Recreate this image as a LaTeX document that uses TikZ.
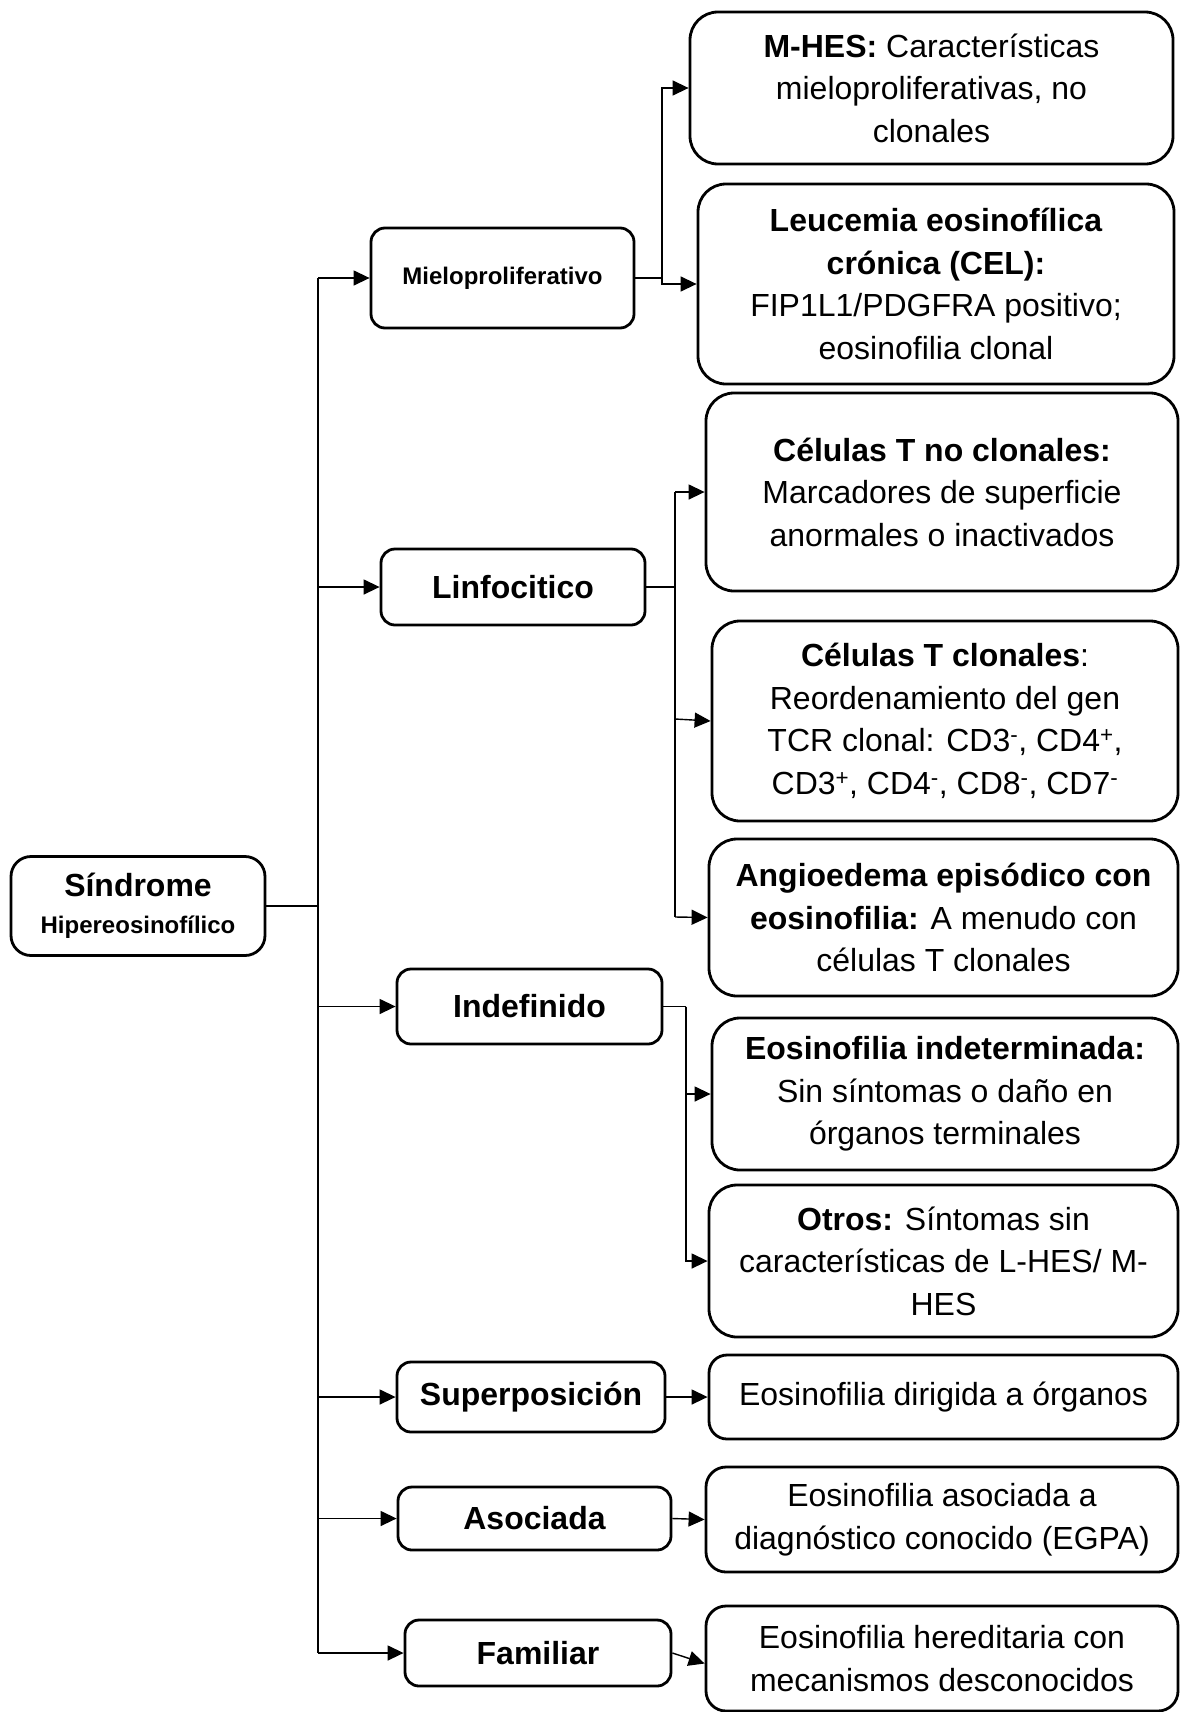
\documentclass[tikz,border=0pt]{standalone}
\usepackage{fontspec}
\setmainfont{Liberation Sans}
\usetikzlibrary{arrows.meta}
\tikzset{
  lone/.style={draw, line width=2.8bp, rounded corners=14bp, align=center, inner sep=0pt,
    font=\fontsize{32.1}{42.7}\selectfont\bfseries},
  ltwo/.style={draw, line width=2.8bp, rounded corners=28bp, align=center, inner sep=0pt,
    font=\fontsize{32.1}{42.7}\selectfont},
  conn/.style={line width=1.4bp},
  arr/.style={conn, -{Triangle[length=16bp,width=15bp]}},
}
\begin{document}
\begin{tikzpicture}[x=1bp,y=-1bp]
\useasboundingbox (0,0) rectangle (1179,1712);
% root
\node[lone, rounded corners=20bp, minimum width=254bp, minimum height=99bp,
  font=\fontsize{24.1}{37}\selectfont\bfseries] (root) at (138,906)
  {{\fontsize{32.1}{37}\selectfont Síndrome}\\Hipereosinofílico};
% level 1
\node[lone, minimum width=263bp, minimum height=100bp, font=\fontsize{24.1}{30}\selectfont\bfseries] (mielo) at (502.5,278) {Mieloproliferativo};
\node[lone, minimum width=264bp, minimum height=76bp] (linf) at (513,587) {Linfocitico};
\node[lone, minimum width=265bp, minimum height=75bp] (indef) at (529.5,1006.5) {Indefinido};
\node[lone, minimum width=268bp, minimum height=70bp] (super) at (531,1397) {Superposición};
\node[lone, minimum width=273bp, minimum height=63bp] (asoc) at (534.5,1518.5) {Asociada};
\node[lone, minimum width=266bp, minimum height=66bp] (fam) at (538,1653) {Familiar};
% level 2
\node[ltwo, minimum width=483bp, minimum height=152bp] (mhes) at (931.5,88)
  {\textbf{M-HES:} Características\\mieloproliferativas, no\\clonales};
\node[ltwo, minimum width=476bp, minimum height=200bp] (cel) at (936,284)
  {\textbf{Leucemia eosinofílica}\\\textbf{crónica (CEL):}\\FIP1L1/PDGFRA positivo;\\eosinofilia clonal};
\node[ltwo, minimum width=472bp, minimum height=198bp] (tno) at (942,492)
  {\textbf{Células T no clonales:}\\Marcadores de superficie\\anormales o inactivados};
\node[ltwo, minimum width=466bp, minimum height=200bp] (tcl) at (945,721)
  {\textbf{Células T clonales}:\\Reordenamiento del gen\\TCR clonal: CD3\textsuperscript{-}, CD4\textsuperscript{+},\\CD3\textsuperscript{+}, CD4\textsuperscript{-}, CD8\textsuperscript{-}, CD7\textsuperscript{-}};
\node[ltwo, minimum width=469bp, minimum height=157bp] (angio) at (943.5,917.5)
  {\textbf{Angioedema episódico con}\\\textbf{eosinofilia:} A menudo con\\células T clonales};
\node[ltwo, minimum width=466bp, minimum height=152bp] (eind) at (945,1094)
  {\textbf{Eosinofilia indeterminada:}\\Sin síntomas o daño en\\órganos terminales};
\node[ltwo, minimum width=469bp, minimum height=152bp] (otros) at (943.5,1261)
  {\textbf{Otros:} Síntomas sin\\características de L-HES/ M-\\HES};
\node[ltwo, rounded corners=18bp, minimum width=469bp, minimum height=84bp] (edir) at (943.5,1397)
  {Eosinofilia dirigida a órganos};
\node[ltwo, rounded corners=20bp, minimum width=472bp, minimum height=105bp] (easoc) at (942,1519.5)
  {Eosinofilia asociada a\\diagnóstico conocido (EGPA)};
\node[ltwo, rounded corners=20bp, minimum width=472bp, minimum height=105bp] (eher) at (942,1658.5)
  {Eosinofilia hereditaria con\\mecanismos desconocidos};
% trunk
\coordinate (t1) at (318,278);
\coordinate (t2) at (318,587);
\coordinate (t3) at (318,1006.5);
\coordinate (t4) at (318,1397);
\coordinate (t5) at (318,1518.5);
\coordinate (t6) at (318,1653);
\draw[conn] (root.east) -- (root.east -| t1);
\draw[conn] (t1) -- (t6);
\draw[arr] (t1) -- (mielo.west);
\draw[arr] (t2) -- (linf.west);
\draw[arr] (t3) -- (indef.west);
\draw[arr] (t4) -- (super.west);
\draw[arr] (t5) -- (asoc.west);
\draw[arr] (t6) -- (fam.west);
% mielo branch
\coordinate (j1) at (662,278);
\draw[conn] (mielo.east) -- (j1);
\draw[arr] (j1) |- (mhes.west);
\draw[arr] (j1) |- (cel.west);
% linf branch
\coordinate (j2) at (675,587);
\coordinate (j2a) at (675,492);
\coordinate (j2b) at (675,719);
\coordinate (j2c) at (675,917);
\draw[conn] (linf.east) -- (j2);
\draw[conn] (j2a) -- (j2c);
\draw[arr] (j2a) -- (tno.west);
\draw[arr] (j2b) -- (tcl.west);
\draw[arr] (j2c) -- (angio.west);
% indef branch
\coordinate (j3) at (686,1006.5);
\draw[conn] (indef.east) -- (j3);
\draw[arr] (j3) |- (eind.west);
\draw[arr] (j3) |- (otros.west);
% single arrows
\draw[arr] (super.east) -- (edir.west);
\draw[arr] (asoc.east) -- (easoc.west);
\draw[arr] (fam.east) -- ([yshift=-5bp]eher.west);
\end{tikzpicture}
\end{document}
